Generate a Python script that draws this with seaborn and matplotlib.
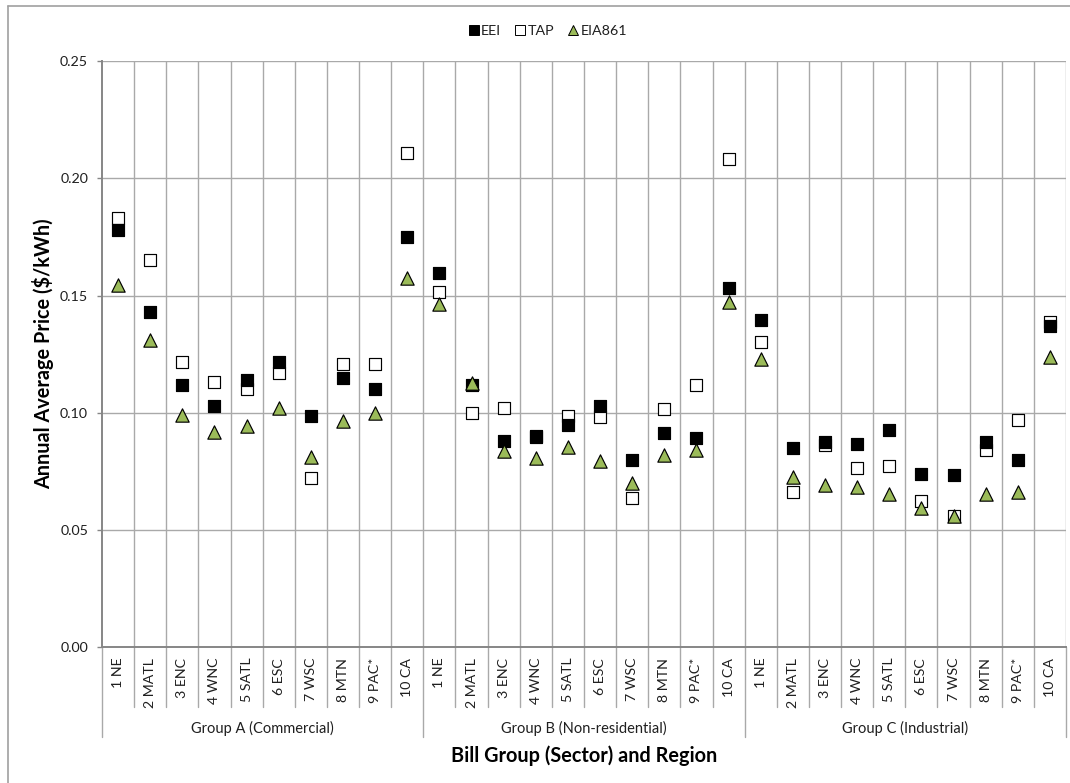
import matplotlib
matplotlib.use("Agg")
import matplotlib.pyplot as plt
from matplotlib.lines import Line2D
import numpy as np
import pandas as pd
import seaborn as sns

# ---------------- data ----------------
regions = ["1 NE", "2 MATL", "3 ENC", "4 WNC", "5 SATL", "6 ESC", "7 WSC", "8 MTN", "9 PAC*", "10 CA"]
groups = ["Group A (Commercial)", "Group B (Non-residential)", "Group C (Industrial)"]

eei_a = [0.178, 0.143, 0.112, 0.103, 0.114, 0.1215, 0.0985, 0.115, 0.110, 0.175]
tap_a = [0.183, 0.165, 0.1217, 0.113, 0.110, 0.117, 0.072, 0.121, 0.121, 0.2107]
eia_a = [0.1544, 0.1312, 0.0991, 0.092, 0.0944, 0.102, 0.0813, 0.0966, 0.0999, 0.1573]

eei_b = [0.1594, 0.112, 0.088, 0.0902, 0.0949, 0.103, 0.0799, 0.0913, 0.0892, 0.153]
tap_b = [0.1516, 0.0999, 0.102, 0.0898, 0.0987, 0.098, 0.0635, 0.1017, 0.112, 0.2081]
eia_b = [0.1464, 0.1127, 0.0838, 0.0806, 0.0852, 0.0796, 0.070, 0.0818, 0.0842, 0.1471]

eei_c = [0.1397, 0.0849, 0.0876, 0.0868, 0.0927, 0.0738, 0.0734, 0.0875, 0.0799, 0.1368]
tap_c = [0.130, 0.0661, 0.0864, 0.0764, 0.0775, 0.0624, 0.056, 0.0842, 0.097, 0.1389]
eia_c = [0.1231, 0.0728, 0.0692, 0.0682, 0.0653, 0.0593, 0.0558, 0.0653, 0.0661, 0.1236]

y_ticks = [0.00, 0.05, 0.10, 0.15, 0.20, 0.25]

series = {
    "EEI": [eei_a, eei_b, eei_c],
    "TAP": [tap_a, tap_b, tap_c],
    "EIA861": [eia_a, eia_b, eia_c],
}

rows = []
for name, glists in series.items():
    for gi, vals in enumerate(glists):
        for ri, v in enumerate(vals):
            rows.append({"series": name, "group": groups[gi], "region": regions[ri],
                         "pos": gi * len(regions) + ri, "value": v})
df = pd.DataFrame(rows)

# ---------------- style ----------------
sns.set_theme(style="white")
plt.rcParams["font.family"] = ["Lato", "DejaVu Sans"]

grid_c = "#a9a9a9"
axis_c = "#868686"
text_c = "#1f1f1f"

W, H = 1070, 783
fig = plt.figure(figsize=(W / 100, H / 100), dpi=100)
ax_left, ax_right, ax_top, ax_bot = 102, 1066, 61, 647.3
ax = fig.add_axes([ax_left / W, 1 - ax_bot / H, (ax_right - ax_left) / W, (ax_bot - ax_top) / H])
px = ax_bot - ax_top  # axes height in px

n = len(groups) * len(regions)
ax.set_xlim(-0.5, n - 0.5)
ax.set_ylim(0, 0.25)

# gridlines
for yv in y_ticks[1:]:
    ax.axhline(yv, color=grid_c, lw=1.0, zorder=1)
for k in range(1, n + 1):
    ax.axvline(k - 0.5, color=grid_c, lw=1.0, zorder=1)

# markers (TAP under EEI, EIA on top)
sns.scatterplot(data=df[df.series == "TAP"], x="pos", y="value", marker="s", s=66,
                color="white", edgecolor="black", linewidth=0.85, ax=ax, zorder=3, legend=False)
sns.scatterplot(data=df[df.series == "EEI"], x="pos", y="value", marker="s", s=66,
                color="black", edgecolor="black", linewidth=0.85, ax=ax, zorder=4, legend=False)
sns.scatterplot(data=df[df.series == "EIA861"], x="pos", y="value", marker="^", s=92,
                color="#9BBB59", edgecolor="black", linewidth=0.85, ax=ax, zorder=5, legend=False)

# spines
for s in ["top", "right"]:
    ax.spines[s].set_visible(False)
ax.spines["left"].set_color(axis_c)
ax.spines["left"].set_linewidth(1.4)
ax.spines["bottom"].set_color(axis_c)
ax.spines["bottom"].set_linewidth(1.4)

# y axis
ax.set_yticks(y_ticks)
ax.set_yticklabels([f"{v:.2f}" for v in y_ticks], fontsize=10.3, color=text_c)
ax.tick_params(axis="y", which="major", direction="out", length=3.5, width=1, color=axis_c, pad=6.5, left=True)
ax.set_ylabel("")
fig.text(42.7 / W, 1 - 354 / H, "Annual Average Price ($/kWh)", rotation=90,
         ha="center", va="center", fontsize=14.3, fontweight="bold", color="black")

# x axis: multi-level category labels
ax.set_xticks([])
ax.set_xlabel("")
tr = ax.get_xaxis_transform()
for gi, g in enumerate(groups):
    for ri, r in enumerate(regions):
        pos = gi * len(regions) + ri
        ax.text(pos, -10.5 / px, r, transform=tr, rotation=90, ha="center", va="top",
                fontsize=10.2, color=text_c)
    ax.text(gi * len(regions) + (len(regions) - 1) / 2, -81.5 / px, g, transform=tr,
            ha="center", va="center", fontsize=10.5, color=text_c)
# separators below axis
for k in range(0, n + 1):
    xv = k - 0.5
    depth = 89.5 / px if k % len(regions) == 0 else 60 / px
    ax.add_line(Line2D([xv, xv], [0, -depth], transform=tr, color=grid_c, lw=1.0, clip_on=False))

fig.text((ax_left + ax_right) / 2 / W, 1 - 756 / H, "Bill Group (Sector) and Region",
         ha="center", va="center", fontsize=14.3, fontweight="bold", color="black")

# legend
handles = [
    Line2D([], [], ls="none", marker="s", ms=6.6, mfc="black", mec="black", mew=0.7),
    Line2D([], [], ls="none", marker="s", ms=6.6, mfc="white", mec="black", mew=0.7),
    Line2D([], [], ls="none", marker="^", ms=7.5, mfc="#9BBB59", mec="black", mew=0.7),
]
fig.legend(handles, ["EEI", "TAP", "EIA861"], loc="center", bbox_to_anchor=(548 / W, 1 - 30.5 / H),
           ncol=3, frameon=False, fontsize=10.3, handlelength=0.7, handletextpad=0.15,
           columnspacing=1.0, borderaxespad=0, labelcolor=text_c)

# outer chart border (left and top visible)
fig.add_artist(Line2D([8 / W, 8 / W], [0, 1 - 6 / H], color="#a0a0a0", lw=1.2))
fig.add_artist(Line2D([8 / W, 1], [1 - 6 / H, 1 - 6 / H], color="#a0a0a0", lw=1.2))

fig.savefig("out.png", dpi=100)
